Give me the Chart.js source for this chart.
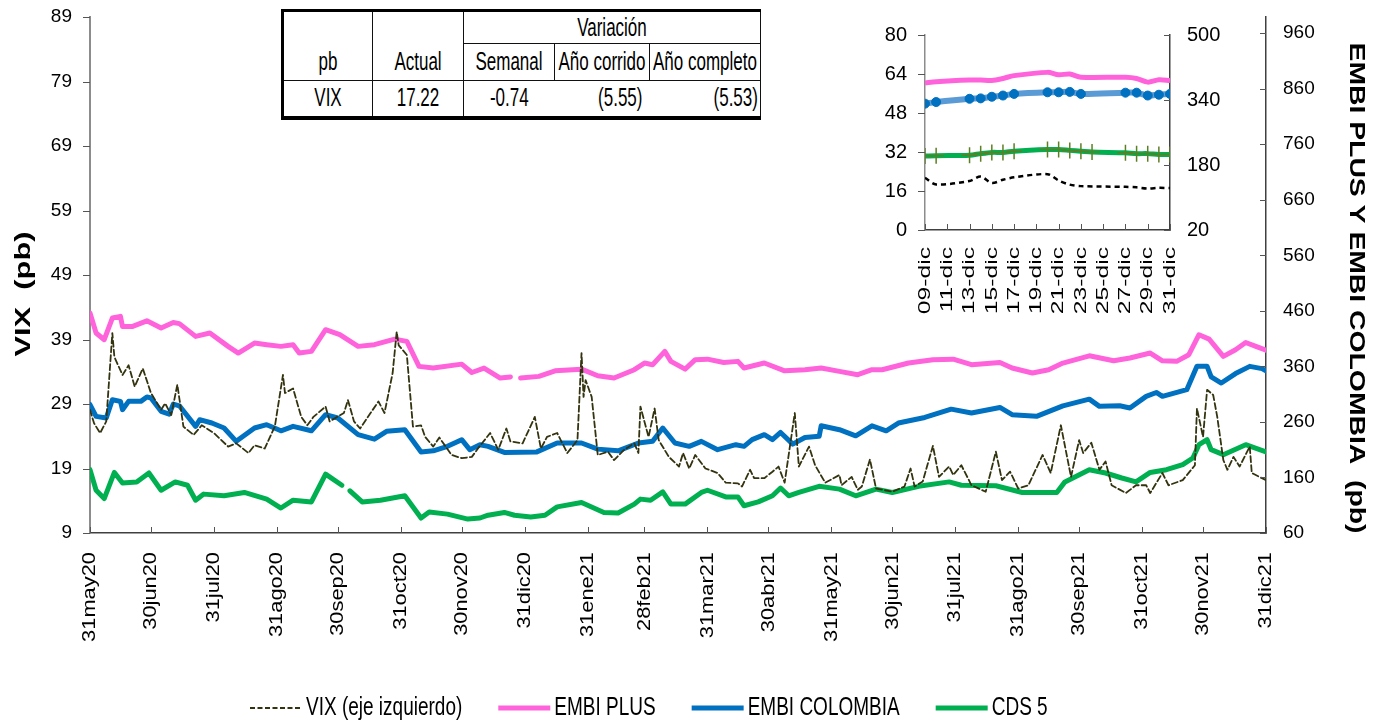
<!DOCTYPE html>
<html>
<head>
<meta charset="utf-8">
<script src="https://cdn.jsdelivr.net/npm/chart.js@4.4.0/dist/chart.umd.min.js"></script>
<style>
  html, body { margin: 0; padding: 0; background: #fff; overflow: hidden; }
  #wrap { position: relative; width: 1381px; height: 721px; font-family: "Liberation Sans", Arial, sans-serif; }
  #main { position: absolute; left: 0; top: 0; }
  #inset { position: absolute; left: 860px; top: 15px; }
  #tbl {
    position: absolute; left: 281px; top: 9px; border-collapse: collapse; table-layout: fixed;
    font-size: 17px; color: #000; background: #fff;
    border-top: 3px solid #000; border-left: 3px solid #000; border-bottom: 4px solid #000; border-right: 1px solid #000;
  }
  #tbl td { border: 1px solid #111; padding: 0 3px; text-align: center; vertical-align: middle; white-space: nowrap; }
  #tbl td span { display: inline-block; transform: scaleY(1.5); }
  #tbl td.bot { vertical-align: bottom; padding-bottom: 8px; }
  #tbl tr.vals td:nth-child(3) { border-right: none; }
  #tbl tr.vals td:nth-child(4) { border-left: none; border-right: none; text-align: right; padding-right: 7px; }
  #tbl tr.vals td:nth-child(5) { border-left: none; text-align: right; padding-right: 2px; }
</style>
</head>
<body>
<div id="wrap">
  <canvas id="main" width="1381" height="721"></canvas>
  <canvas id="inset" width="380" height="320"></canvas>
  <table id="tbl"></table>
</div>
<script>
// main chart: x = days since 31may20
const tickDays = [0, 30, 61, 92, 122, 153, 183, 214, 245, 273, 304, 334, 365, 395, 426, 457, 487, 518, 548, 579];
const tickLabels = ['31may20', '30jun20', '31jul20', '31ago20', '30sep20', '31oct20', '30nov20', '31dic20', '31ene21', '28feb21',
  '31mar21', '30abr21', '31may21', '30jun21', '31jul21', '31ago21', '30sep21', '31oct21', '30nov21', '31dic21'];
const leftTicks = [9, 19, 29, 39, 49, 59, 69, 79, 89];
const rightTicks = [60, 160, 260, 360, 460, 560, 660, 760, 860, 960];

const vixDays = [0, 2, 5, 8, 11, 12, 16, 19, 22, 26,
  30, 35, 37, 40, 43, 46, 51, 55, 61, 68,
  72, 78, 81, 86, 91, 95, 96, 100, 104, 107,
  110, 116, 118, 125, 127, 130, 133, 142, 145, 149,
  151, 152, 156, 159, 163, 165, 169, 172, 178, 183,
  188, 191, 197, 201, 205, 207, 213, 219, 222, 225,
  230, 235, 240, 242, 243, 244, 247, 250, 255, 258,
  263, 268, 270, 271, 275, 278, 280, 285, 290, 292,
  295, 298, 303, 309, 313, 319, 321, 325, 327, 332,
  336, 339, 342, 347, 349, 354, 357, 362, 369, 370,
  375, 378, 380, 384, 387, 395, 401, 404, 406, 410,
  415, 418, 423, 425, 429, 434, 441, 446, 449, 453,
  457, 462, 469, 473, 478, 483, 487, 489, 493, 497,
  500, 503, 510, 515, 520, 522, 528, 531, 538, 544,
  545, 548, 550, 553, 555, 558, 560, 563, 566, 571,
  572, 577, 579];
const vixVals = [28.1, 26.0, 24.5, 26.3, 40.0, 36.3, 33.5, 35.0, 31.7, 34.5,
  30.7, 28.1, 29.1, 27.3, 32.0, 25.5, 24.2, 25.7, 24.5, 22.4,
  22.9, 21.4, 22.6, 22.1, 25.5, 33.5, 30.7, 31.4, 27.0, 25.7,
  27.0, 28.6, 26.3, 27.6, 29.6, 26.3, 25.2, 29.4, 27.6, 33.8,
  40.2, 38.1, 36.6, 25.5, 25.7, 23.9, 22.4, 23.8, 21.1, 20.6,
  20.8, 22.1, 24.5, 21.9, 25.2, 23.2, 22.9, 27.0, 22.1, 23.9,
  24.5, 21.4, 23.4, 36.9, 30.1, 32.7, 30.1, 21.1, 21.6, 20.3,
  21.9, 22.9, 21.4, 28.6, 23.9, 28.3, 23.4, 20.8, 19.3, 21.4,
  19.0, 21.1, 19.0, 18.3, 16.8, 16.7, 16.2, 18.8, 17.5, 17.5,
  18.5, 19.3, 16.8, 27.6, 19.3, 22.4, 19.5, 16.8, 18.0, 16.4,
  17.7, 15.7, 16.2, 20.4, 15.9, 15.4, 16.2, 19.0, 16.2, 17.0,
  22.5, 17.7, 19.3, 18.0, 19.5, 16.4, 15.4, 21.6, 17.2, 18.5,
  15.9, 16.4, 21.1, 18.3, 25.7, 17.7, 23.4, 21.4, 23.0, 18.8,
  20.1, 16.4, 15.2, 16.4, 16.4, 15.2, 18.3, 16.4, 17.2, 19.5,
  28.3, 23.9, 31.2, 30.4, 27.0, 20.3, 18.8, 20.8, 19.3, 22.4,
  18.3, 17.5, 17.2];

const embiPlusDays = [0, 3, 7, 11, 15, 16, 21, 28, 35, 41,
  44, 52, 59, 68, 73, 81, 87, 94, 100, 103,
  109, 116, 123, 132, 140, 150, 156, 162, 169, 183,
  188, 194, 202, 207, 209, 212, 221, 229, 242, 250,
  258, 268, 273, 277, 283, 286, 293, 298, 304, 312,
  319, 322, 332, 342, 352, 360, 369, 378, 385, 390,
  403, 415, 425, 434, 448, 454, 464, 472, 479, 492,
  504, 512, 522, 528, 535, 541, 546, 551, 558, 564,
  569, 574, 579];
const embiPlusVals = [456, 420, 408, 447, 450, 432, 432, 442, 429, 439,
  437, 414, 420, 396, 384, 402, 399, 396, 399, 384,
  387, 426, 417, 396, 399, 409, 405, 360, 357, 364,
  349, 357, 339, 341, null, 339, 342, 352, 355, 343,
  339, 354, 366, 363, 387, 369, 355, 372, 373, 367,
  369, 357, 366, 352, 354, 357, 351, 345, 354, 354,
  366, 372, 373, 363, 367, 357, 348, 354, 366, 379,
  370, 375, 384, 370, 369, 381, 417, 409, 378, 390,
  403, 396, 389];

const embiColDays = [0, 3, 8, 11, 15, 16, 19, 25, 28, 30,
  35, 39, 41, 44, 52, 54, 60, 66, 72, 81,
  87, 94, 100, 109, 116, 122, 132, 140, 146, 155,
  163, 169, 176, 183, 187, 192, 196, 204, 220, 230,
  242, 250, 260, 270, 277, 282, 288, 295, 301, 309,
  318, 322, 326, 332, 336, 340, 346, 352, 359, 360,
  369, 377, 385, 392, 398, 411, 424, 434, 448, 454,
  466, 479, 492, 497, 507, 512, 520, 525, 528, 540,
  545, 550, 552, 557, 564, 571, 577, 579];
const embiColVals = [291, 270, 267, 300, 297, 282, 297, 297, 305, 303,
  279, 274, 292, 289, 252, 264, 258, 249, 225, 249,
  255, 244, 252, 244, 273, 267, 237, 229, 243, 246,
  206, 208, 216, 228, 210, 219, 216, 205, 206, 222,
  222, 211, 208, 222, 225, 249, 222, 216, 225, 210,
  219, 216, 228, 237, 228, 241, 220, 232, 234, 253,
  246, 235, 253, 244, 258, 268, 283, 276, 286, 273,
  270, 289, 301, 288, 289, 285, 306, 313, 306, 318,
  360, 360, 341, 330, 347, 360, 356, 352];

const cdsDays = [0, 3, 7, 12, 16, 23, 29, 35, 42, 48,
  52, 56, 66, 76, 87, 94, 100, 109, 116, 124,
  126, 128, 134, 143, 155, 163, 167, 176, 186, 192,
  196, 204, 209, 217, 224, 230, 242, 253, 260, 268,
  271, 276, 282, 286, 293, 301, 304, 313, 319, 322,
  329, 336, 340, 344, 349, 359, 369, 377, 387, 395,
  408, 423, 429, 446, 459, 476, 480, 492, 500, 508,
  515, 522, 530, 538, 543, 546, 550, 552, 558, 569,
  579];
const cdsVals = [174, 137, 122, 169, 150, 152, 168, 137, 152, 146,
  119, 130, 127, 133, 121, 105, 119, 116, 166, 146,
  null, 136, 116, 119, 127, 87, 98, 94, 85, 87,
  92, 97, 92, 89, 92, 107, 115, 97, 96, 112,
  121, 119, 134, 112, 112, 133, 137, 125, 125, 109,
  116, 127, 141, 127, 133, 144, 139, 127, 139, 133,
  144, 152, 146, 145, 133, 133, 152, 174, 168, 159,
  152, 169, 174, 183, 195, 219, 228, 210, 201, 219,
  206];

// inset: december 2021
const insetTicks = [9, 11, 13, 15, 17, 19, 21, 23, 25, 27, 29, 31];
const insetTickLabels = ['09-dic', '11-dic', '13-dic', '15-dic', '17-dic', '19-dic', '21-dic', '23-dic', '25-dic', '27-dic', '29-dic', '31-dic'];
const insetDays = [9, 10, 13, 14, 15, 16, 17, 20, 21, 22, 23, 27, 28, 29, 30, 31];
const insetVix = [21.4, 18.7, 20.1, 21.9, 19.3, 20.6, 21.6, 22.9, 20.3, 18.6, 18.0, 17.7, 17.5, 17.0, 17.3, 17.2];
const insetEmbiPlus = [382, 385, 389, 389, 388, 393, 400, 408, 402, 404, 396, 396, 393, 384, 390, 388];
const insetEmbiCol = [331, 335, 343, 344, 348, 351, 355, 359, 359, 360, 355, 358, 358, 351, 353, 355];
const insetCdsDays = [9, 10, 13, 14, 15, 16, 17, 20, 21, 22, 23, 24, 27, 28, 29, 30, 31];
const insetCds = [202, 203, 204, 208, 211, 211, 214, 218, 218, 216, 214, 212, 210, 208, 208, 206, 206];

// table
const tableHead = ['pb', 'Actual', 'Variación'];
const tableSub = ['Semanal', 'Año corrido', 'Año completo'];
const tableRow = ['VIX', '17.22', '-0.74', '(5.55)', '(5.53)'];

const FONT = '"Liberation Sans", Arial, sans-serif';
const PINK = '#ff63dc';
const BLUE = '#0070c0';
const GREEN = '#00b050';
const VIXC = '#33330f';

Chart.defaults.font.family = FONT;
Chart.defaults.color = '#000';

const pts = (days, vals) => days.map((d, i) => ({x: d, y: vals[i]}));

// fixed axis width, and no extra room above/below for the tick labels
const fixWidth = w => s => { s.width = w; s.paddingTop = 0; s.paddingBottom = 0; };

const decor = {
    id: 'decor',
    afterDraw(chart, args, o) {
        const ctx = chart.ctx;
        const a = chart.chartArea;
        const xs = chart.scales.x, ys = chart.scales.y, y1 = chart.scales.y1;
        const line = (x1, yA, x2, yB) => { ctx.beginPath(); ctx.moveTo(x1, yA); ctx.lineTo(x2, yB); ctx.stroke(); };

        ctx.save();
        ctx.lineWidth = 1;
        ctx.strokeStyle = o.tickColor;
        xs.ticks.forEach(t => {
            const px = Math.round(xs.getPixelForValue(t.value)) + 0.5;
            line(px, a.bottom, px, a.bottom - o.xTick);
        });
        ys.ticks.forEach(t => {
            const py = Math.round(ys.getPixelForValue(t.value)) + 0.5;
            line(a.left - o.yTick, py, a.left, py);
        });
        y1.ticks.forEach(t => {
            const py = Math.round(y1.getPixelForValue(t.value)) + 0.5;
            line(a.right - o.y1Tick, py, a.right, py);
        });

        // rotated x labels
        ctx.fillStyle = '#000';
        ctx.font = o.xFont;
        ctx.textAlign = 'right';
        ctx.textBaseline = 'middle';
        xs.ticks.forEach((t, i) => {
            ctx.save();
            ctx.translate(xs.getPixelForValue(t.value), a.bottom + o.xGap);
            ctx.rotate(-Math.PI / 2);
            ctx.scale(o.xStretch, 1);
            ctx.fillText(o.xLabels[i], 0, 0);
            ctx.restore();
        });

        (o.titles || []).forEach(ti => {
            ctx.save();
            ctx.font = ti.font;
            ctx.textAlign = 'center';
            ctx.textBaseline = 'middle';
            const w = ctx.measureText(ti.text).width;
            ctx.translate(ti.x, ti.y);
            ctx.rotate(ti.rot);
            ctx.scale(ti.len / w, 1);
            ctx.fillText(ti.text, 0, 0);
            ctx.restore();
        });

        if (o.legend) {
            const L = o.legend;
            let x = L.x;
            ctx.font = L.font;
            ctx.textAlign = 'left';
            ctx.textBaseline = 'middle';
            chart.data.datasets.forEach(ds => {
                ctx.save();
                ctx.strokeStyle = ds.borderColor;
                ctx.lineWidth = ds.borderDash ? 2 : ds.borderWidth;
                ctx.setLineDash(ds.borderDash ? [5, 2.5] : []);
                line(x, L.y, x + L.sample, L.y);
                ctx.restore();
                x += L.sample + L.gap;
                ctx.save();
                ctx.translate(x, L.y);
                ctx.scale(1, L.stretchY);
                ctx.fillText(ds.label, 0, 0);
                ctx.restore();
                x += ctx.measureText(ds.label).width + L.spacing;
            });
        }
        ctx.restore();
    }
};
Chart.register(decor);

new Chart(document.getElementById('main'), {
    type: 'line',
    data: {
        datasets: [
            {label: 'VIX (eje izquierdo)', data: pts(vixDays, vixVals), yAxisID: 'y',
                borderColor: VIXC, borderWidth: 1.8, borderDash: [6, 3], pointRadius: 0},
            {label: 'EMBI PLUS', data: pts(embiPlusDays, embiPlusVals), yAxisID: 'y1',
                borderColor: PINK, borderWidth: 5, pointRadius: 0},
            {label: 'EMBI COLOMBIA', data: pts(embiColDays, embiColVals), yAxisID: 'y1',
                borderColor: BLUE, borderWidth: 5, pointRadius: 0},
            {label: 'CDS 5', data: pts(cdsDays, cdsVals), yAxisID: 'y1',
                borderColor: GREEN, borderWidth: 5, pointRadius: 0}
        ]
    },
    options: {
        responsive: false,
        animation: false,
        layout: {padding: {top: 17, left: 0, right: 0, bottom: 0}},
        elements: {line: {tension: 0, borderJoinStyle: 'round', borderCapStyle: 'round'}},
        plugins: {
            legend: {display: false},
            tooltip: {enabled: false},
            decor: {
                tickColor: '#555', xTick: 6, yTick: 7, y1Tick: 6,
                xLabels: tickLabels, xFont: '19px ' + FONT, xStretch: 1.15, xGap: 19,
                titles: [
                    {text: 'VIX  (pb)', x: 24, y: 294, rot: -Math.PI / 2, font: 'bold 22px ' + FONT, len: 125},
                    {text: 'EMBI PLUS Y EMBI COLOMBIA  (pb)', x: 1356, y: 288, rot: Math.PI / 2, font: 'bold 22px ' + FONT, len: 491}
                ],
                legend: {x: 250, y: 708, sample: 52, gap: 4, spacing: 36, font: '19px ' + FONT, stretchY: 1.4}
            }
        },
        scales: {
            x: {
                type: 'linear', min: 0, max: 579,
                afterBuildTicks: s => { s.ticks = tickDays.map(v => ({value: v})); },
                afterFit: s => { s.height = 188; },
                ticks: {display: false},
                grid: {display: false, drawTicks: false},
                border: {display: true, color: '#404040', width: 1.5}
            },
            y: {
                position: 'left', min: 9, max: 89,
                afterBuildTicks: s => { s.ticks = leftTicks.map(v => ({value: v})); },
                afterFit: fixWidth(90),
                ticks: {padding: 18, font: {size: 19}, color: '#000'},
                grid: {display: false, drawTicks: false},
                border: {display: true, color: '#8c8c8c', width: 2}
            },
            y1: {
                position: 'right', min: 60, max: 989,
                afterBuildTicks: s => { s.ticks = rightTicks.map(v => ({value: v})); },
                afterFit: fixWidth(115),
                ticks: {padding: 17, font: {size: 19}, color: '#000'},
                grid: {display: false, drawTicks: false},
                border: {display: true, color: '#404040', width: 1.5}
            }
        }
    }
});

new Chart(document.getElementById('inset'), {
    type: 'line',
    data: {
        datasets: [
            {label: 'VIX', data: pts(insetDays, insetVix), yAxisID: 'y',
                borderColor: '#000', borderWidth: 2.5, borderDash: [5, 4], pointRadius: 0},
            {label: 'EMBI PLUS', data: pts(insetDays, insetEmbiPlus), yAxisID: 'y1',
                borderColor: PINK, borderWidth: 5, pointRadius: 0},
            {label: 'EMBI COLOMBIA', data: pts(insetDays, insetEmbiCol), yAxisID: 'y1',
                borderColor: '#5b9bd5', borderWidth: 6, pointRadius: 4.5, pointStyle: 'circle',
                pointBackgroundColor: BLUE, pointBorderColor: BLUE, pointBorderWidth: 1},
            {label: 'CDS 5', data: pts(insetCdsDays, insetCds), yAxisID: 'y1',
                borderColor: GREEN, borderWidth: 5, pointRadius: 8, pointStyle: 'cross',
                pointBorderColor: '#5d7f24', pointBorderWidth: 1.5}
        ]
    },
    options: {
        responsive: false,
        animation: false,
        layout: {padding: {top: 20, left: 0, right: 0, bottom: 0}},
        elements: {line: {tension: 0.3, borderJoinStyle: 'round'}},
        plugins: {
            legend: {display: false},
            tooltip: {enabled: false},
            decor: {
                tickColor: '#555', xTick: 6, yTick: 7, y1Tick: 6,
                xLabels: insetTickLabels, xFont: '17px ' + FONT, xStretch: 1.45, xGap: 17
            }
        },
        scales: {
            x: {
                type: 'linear', min: 9, max: 31,
                afterBuildTicks: s => { s.ticks = insetTicks.map(v => ({value: v})); },
                afterFit: s => { s.height = 105; },
                ticks: {display: false},
                grid: {display: false, drawTicks: false},
                border: {display: true, color: '#404040', width: 1.5}
            },
            y: {
                position: 'left', min: 0, max: 80,
                ticks: {stepSize: 16, padding: 18, font: {size: 20}, color: '#000'},
                afterFit: fixWidth(65),
                grid: {display: false, drawTicks: false},
                border: {display: true, color: '#8c8c8c', width: 1.5}
            },
            y1: {
                position: 'right', min: 20, max: 500,
                ticks: {stepSize: 160, padding: 17, font: {size: 20}, color: '#000'},
                afterFit: fixWidth(70),
                grid: {display: false, drawTicks: false},
                border: {display: true, color: '#404040', width: 1.5}
            }
        }
    }
});

// summary table
const sp = t => `<span>${t}</span>`;
document.getElementById('tbl').innerHTML =
    '<colgroup><col style="width:90px"><col style="width:91px"><col style="width:91px"><col style="width:95px"><col style="width:107px"></colgroup>' +
    `<tr style="height:33px"><td rowspan="2" class="bot">${sp(tableHead[0])}</td><td rowspan="2" class="bot">${sp(tableHead[1])}</td><td colspan="3">${sp(tableHead[2])}</td></tr>` +
    `<tr style="height:37px">${tableSub.map(t => `<td>${sp(t)}</td>`).join('')}</tr>` +
    `<tr class="vals" style="height:37px">${tableRow.map(t => `<td>${sp(t)}</td>`).join('')}</tr>`;
</script>
</body>
</html>
